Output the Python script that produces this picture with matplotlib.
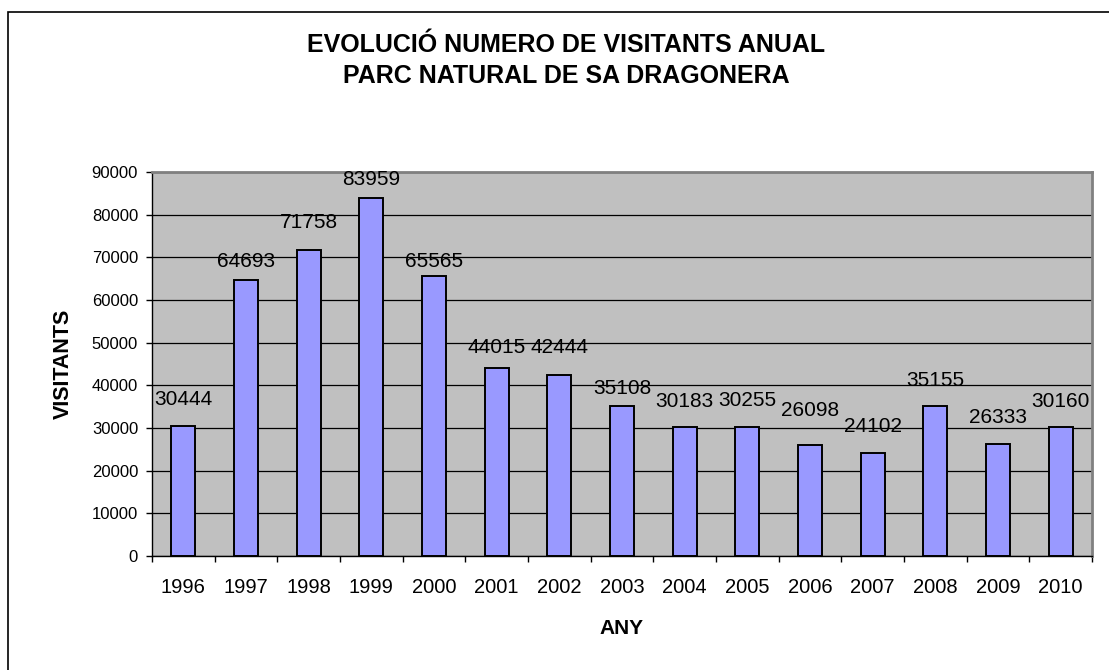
import matplotlib.pyplot as plt
from matplotlib.patches import Rectangle

plt.rcParams['font.family'] = ['Liberation Sans', 'DejaVu Sans']

anys = ['1996', '1997', '1998', '1999', '2000', '2001', '2002', '2003',
        '2004', '2005', '2006', '2007', '2008', '2009', '2010']
visitants = [30444, 64693, 71758, 83959, 65565, 44015, 42444, 35108,
             30183, 30255, 26098, 24102, 35155, 26333, 30160]
yticks = [0, 10000, 20000, 30000, 40000, 50000, 60000, 70000, 80000, 90000]

# distancia (px) de cada etiqueta sobre la barra, com a l'original
label_gap = [27, 18, 27, 18, 15, 21, 27, 18, 26, 26, 34, 27, 26, 26, 26]

W, H = 1109, 670
fig = plt.figure(figsize=(W / 100, H / 100), dpi=100)
# marc exterior del grafic
fig.patches.append(Rectangle((8 / W, -0.05), 1.2, 1 - 12 / H + 0.05,
                             transform=fig.transFigure, fill=False,
                             edgecolor='black', linewidth=1.2))

ax = fig.add_axes([152 / W, 1 - 556 / H, (1092 - 152) / W, (556 - 172) / H])
ax.set_facecolor('#C0C0C0')

x = list(range(len(anys)))
ax.bar(x, visitants, width=0.38, color='#9999FF', edgecolor='black',
       linewidth=1.4, zorder=3)

for xi, v, g in zip(x, visitants, label_gap):
    ax.annotate(str(v), (xi, v), xytext=(0, g * 0.72), textcoords='offset points',
                ha='center', va='center', fontsize=15, zorder=4)

ax.set_xlim(-0.5, len(anys) - 0.5)
ax.set_ylim(0, 90000)
ax.set_yticks(yticks)
ax.set_yticklabels([str(t) for t in yticks], fontsize=12)
ax.yaxis.grid(True, color='black', linewidth=0.9, zorder=0)
ax.set_axisbelow(True)

ax.set_xticks([i - 0.5 for i in range(len(anys) + 1)])
ax.set_xticklabels([])
ax.set_xticks(x, minor=True)
ax.set_xticklabels(anys, minor=True, fontsize=14.5)
ax.tick_params(axis='x', which='major', direction='out', length=4.5, width=1)
ax.tick_params(axis='x', which='minor', length=0, pad=16)
ax.tick_params(axis='y', direction='out', length=4, width=1, pad=6)

for s in ['left', 'bottom']:
    ax.spines[s].set_color('black')
    ax.spines[s].set_linewidth(1)
for s in ['top', 'right']:
    ax.spines[s].set_color('#808080')
    ax.spines[s].set_linewidth(2)

ax.set_xlabel('ANY', fontsize=15, fontweight='bold', va='center')
ax.xaxis.set_label_coords(0.5, (556 - 628) / 384)
ax.set_ylabel('VISITANTS', fontsize=15.5, fontweight='bold', va='center')
ax.yaxis.set_label_coords((63.5 - 152) / 940, 0.5)

fig.text(566 / W, 1 - 45 / H, 'EVOLUCIÓ NUMERO DE VISITANTS ANUAL',
         ha='center', va='center', fontsize=18, fontweight='bold')
fig.text(566 / W, 1 - 76 / H, 'PARC NATURAL DE SA DRAGONERA',
         ha='center', va='center', fontsize=18, fontweight='bold')

plt.savefig('out.png', dpi=100)
